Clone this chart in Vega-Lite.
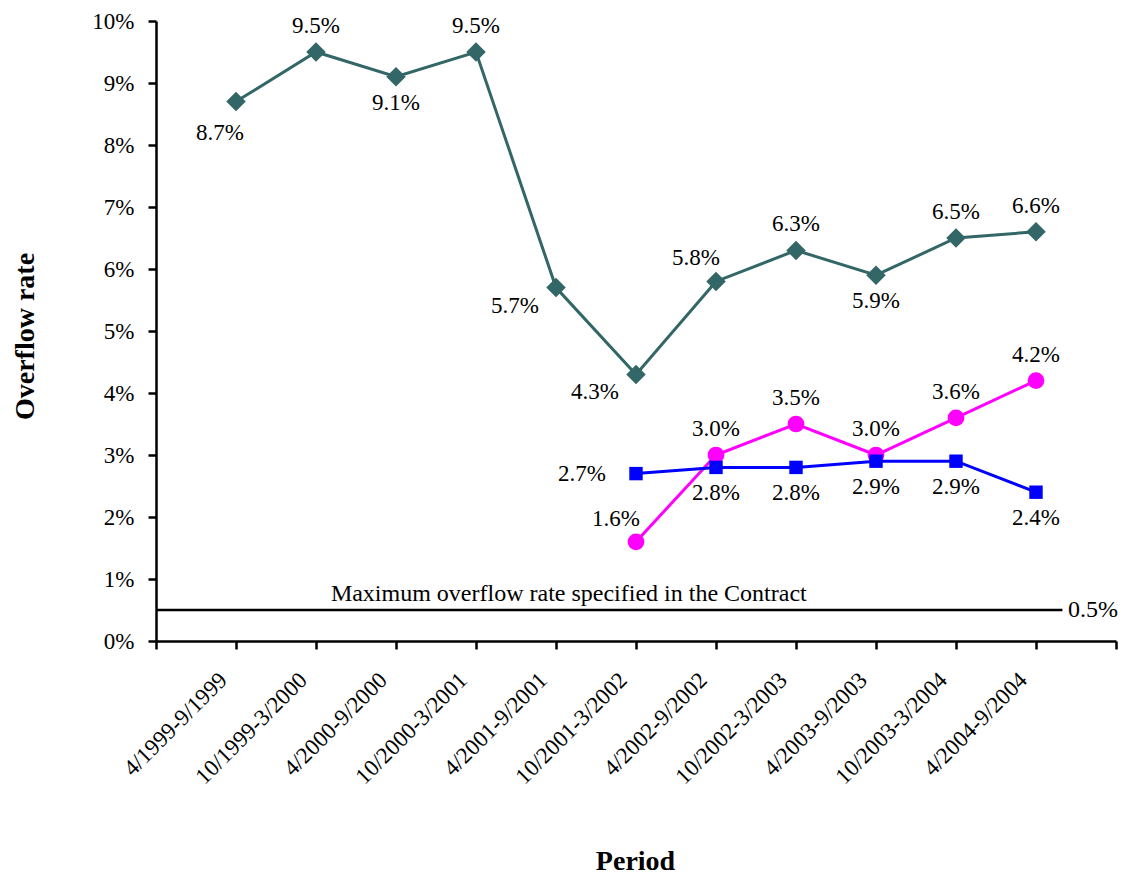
{
  "$schema": "https://vega.github.io/schema/vega-lite/v6.json",
  "width": 960,
  "height": 620,
  "autosize": {"type": "none"},
  "padding": {"left": 156, "top": 21, "right": 15, "bottom": 233},
  "background": "white",
  "config": {
    "view": {"stroke": null},
    "font": "Liberation Serif",
    "text": {"font": "Liberation Serif"},
    "axis": {
      "domainColor": "black", "domainWidth": 2.5,
      "tickColor": "black", "tickWidth": 2.5, "tickSize": 8,
      "labelColor": "black", "labelFont": "Liberation Serif", "labelFontSize": 23,
      "titleColor": "black", "titleFont": "Liberation Serif", "titleFontSize": 28, "titleFontWeight": "bold",
      "grid": false
    }
  },
  "datasets": {
    "rates": [
      {"period": "4/1999-9/1999", "series": "Series 1", "rate": 8.7},
      {"period": "10/1999-3/2000", "series": "Series 1", "rate": 9.5},
      {"period": "4/2000-9/2000", "series": "Series 1", "rate": 9.1},
      {"period": "10/2000-3/2001", "series": "Series 1", "rate": 9.5},
      {"period": "4/2001-9/2001", "series": "Series 1", "rate": 5.7},
      {"period": "10/2001-3/2002", "series": "Series 1", "rate": 4.3},
      {"period": "4/2002-9/2002", "series": "Series 1", "rate": 5.8},
      {"period": "10/2002-3/2003", "series": "Series 1", "rate": 6.3},
      {"period": "4/2003-9/2003", "series": "Series 1", "rate": 5.9},
      {"period": "10/2003-3/2004", "series": "Series 1", "rate": 6.5},
      {"period": "4/2004-9/2004", "series": "Series 1", "rate": 6.6},
      {"period": "10/2001-3/2002", "series": "Series 2", "rate": 1.6},
      {"period": "4/2002-9/2002", "series": "Series 2", "rate": 3.0},
      {"period": "10/2002-3/2003", "series": "Series 2", "rate": 3.5},
      {"period": "4/2003-9/2003", "series": "Series 2", "rate": 3.0},
      {"period": "10/2003-3/2004", "series": "Series 2", "rate": 3.6},
      {"period": "4/2004-9/2004", "series": "Series 2", "rate": 4.2},
      {"period": "10/2001-3/2002", "series": "Series 3", "rate": 2.7},
      {"period": "4/2002-9/2002", "series": "Series 3", "rate": 2.8},
      {"period": "10/2002-3/2003", "series": "Series 3", "rate": 2.8},
      {"period": "4/2003-9/2003", "series": "Series 3", "rate": 2.9},
      {"period": "10/2003-3/2004", "series": "Series 3", "rate": 2.9},
      {"period": "4/2004-9/2004", "series": "Series 3", "rate": 2.4}
    ],
    "limit": [
      {"label": "Maximum overflow rate specified in the Contract", "rate": 0.5}
    ]
  },
  "layer": [
    {
      "data": {"name": "rates"},
      "transform": [
        {"calculate": "datum.series + '|' + datum.period", "as": "key"},
        {"calculate": "format(datum.rate, '.1f') + '%'", "as": "rateLabel"}
      ],
      "encoding": {
        "x": {
          "field": "period", "type": "ordinal", "sort": null,
          "scale": {"type": "point", "padding": 0, "domain": [" ", "4/1999-9/1999", "10/1999-3/2000", "4/2000-9/2000", "10/2000-3/2001", "4/2001-9/2001", "10/2001-3/2002", "4/2002-9/2002", "10/2002-3/2003", "4/2003-9/2003", "10/2003-3/2004", "4/2004-9/2004", "  "]},
          "axis": {
            "title": "Period", "titleX": 479, "titleY": 228, "titleBaseline": "alphabetic", "titleAlign": "center",
            "labelAngle": -45, "labelAlign": "right", "labelBaseline": "alphabetic", "labelPadding": 32, "labelOffset": -8,
            "labelOverlap": false, "labelFlush": false, "labelBound": false
          }
        },
        "y": {
          "field": "rate", "type": "quantitative",
          "scale": {"domain": [0, 10], "nice": false, "zero": true},
          "axis": {
            "title": "Overflow rate", "values": [0, 1, 2, 3, 4, 5, 6, 7, 8, 9, 10],
            "labelExpr": "datum.value + '%'", "labelPadding": 14,
            "titleAngle": -90, "titleX": -123, "titleY": 315, "titleBaseline": "alphabetic", "titleAlign": "center"
          }
        }
      },
      "layer": [
        {
          "mark": {"type": "line", "strokeWidth": 3},
          "encoding": {
            "color": {"field": "series", "type": "nominal", "scale": {"domain": ["Series 1", "Series 2", "Series 3"], "range": ["#336666", "#FF00FF", "#0000FF"]}, "legend": null}
          }
        },
        {
          "mark": {"type": "point", "filled": true, "opacity": 1},
          "encoding": {
            "color": {"field": "series", "type": "nominal", "scale": {"domain": ["Series 1", "Series 2", "Series 3"], "range": ["#336666", "#FF00FF", "#0000FF"]}, "legend": null},
            "shape": {"field": "series", "type": "nominal", "scale": {"domain": ["Series 1", "Series 2", "Series 3"], "range": ["diamond", "circle", "square"]}, "legend": null},
            "size": {"field": "series", "type": "nominal", "scale": {"domain": ["Series 1", "Series 2", "Series 3"], "range": [380, 180, 170]}, "legend": null}
          }
        },
        {
          "transform": [{"filter": {"field": "key", "oneOf": ["Series 1|10/1999-3/2000", "Series 1|10/2000-3/2001", "Series 1|10/2002-3/2003", "Series 1|10/2003-3/2004", "Series 1|4/2004-9/2004", "Series 2|4/2002-9/2002", "Series 2|10/2002-3/2003", "Series 2|4/2003-9/2003", "Series 2|10/2003-3/2004", "Series 2|4/2004-9/2004"]}}],
          "mark": {"type": "text", "font": "Liberation Serif", "fontSize": 23, "color": "black", "align": "center", "baseline": "middle", "dy": -26},
          "encoding": {"text": {"field": "rateLabel"}}
        },
        {
          "transform": [{"filter": {"field": "key", "oneOf": ["Series 1|4/2002-9/2002", "Series 2|10/2001-3/2002"]}}],
          "mark": {"type": "text", "font": "Liberation Serif", "fontSize": 23, "color": "black", "align": "center", "baseline": "middle", "dx": -20, "dy": -23},
          "encoding": {"text": {"field": "rateLabel"}}
        },
        {
          "transform": [{"filter": {"field": "key", "oneOf": ["Series 1|4/2000-9/2000", "Series 1|4/2003-9/2003", "Series 3|4/2002-9/2002", "Series 3|10/2002-3/2003", "Series 3|4/2003-9/2003", "Series 3|10/2003-3/2004", "Series 3|4/2004-9/2004"]}}],
          "mark": {"type": "text", "font": "Liberation Serif", "fontSize": 23, "color": "black", "align": "center", "baseline": "middle", "dy": 26},
          "encoding": {"text": {"field": "rateLabel"}}
        },
        {
          "transform": [{"filter": {"field": "key", "oneOf": ["Series 1|4/1999-9/1999"]}}],
          "mark": {"type": "text", "font": "Liberation Serif", "fontSize": 23, "color": "black", "align": "center", "baseline": "middle", "dx": -16, "dy": 31},
          "encoding": {"text": {"field": "rateLabel"}}
        },
        {
          "transform": [{"filter": {"field": "key", "oneOf": ["Series 1|4/2001-9/2001", "Series 1|10/2001-3/2002"]}}],
          "mark": {"type": "text", "font": "Liberation Serif", "fontSize": 23, "color": "black", "align": "right", "baseline": "middle", "dx": -17, "dy": 18},
          "encoding": {"text": {"field": "rateLabel"}}
        },
        {
          "transform": [{"filter": {"field": "key", "oneOf": ["Series 3|10/2001-3/2002"]}}],
          "mark": {"type": "text", "font": "Liberation Serif", "fontSize": 23, "color": "black", "align": "right", "baseline": "middle", "dx": -30, "dy": 0},
          "encoding": {"text": {"field": "rateLabel"}}
        }
      ]
    },
    {
      "data": {"name": "limit"},
      "transform": [{"calculate": "format(datum.rate, '.1f') + '%'", "as": "rateLabel"}],
      "encoding": {
        "y": {"field": "rate", "type": "quantitative"}
      },
      "layer": [
        {
          "mark": {"type": "rule", "color": "black", "strokeWidth": 2.5},
          "encoding": {
            "x": {"datum": 0, "type": "quantitative", "scale": {"domain": [0, 12], "nice": false, "zero": false}, "axis": null},
            "x2": {"datum": 11.33}
          }
        },
        {
          "mark": {"type": "text", "font": "Liberation Serif", "fontSize": 24, "color": "black", "align": "center", "baseline": "middle", "dy": -16},
          "encoding": {
            "x": {"datum": 5.16, "type": "quantitative"},
            "text": {"field": "label"}
          }
        },
        {
          "mark": {"type": "text", "font": "Liberation Serif", "fontSize": 24, "color": "black", "align": "left", "baseline": "middle"},
          "encoding": {
            "x": {"datum": 11.4, "type": "quantitative"},
            "text": {"field": "rateLabel"}
          }
        }
      ]
    }
  ],
  "resolve": {"scale": {"x": "independent"}}
}
